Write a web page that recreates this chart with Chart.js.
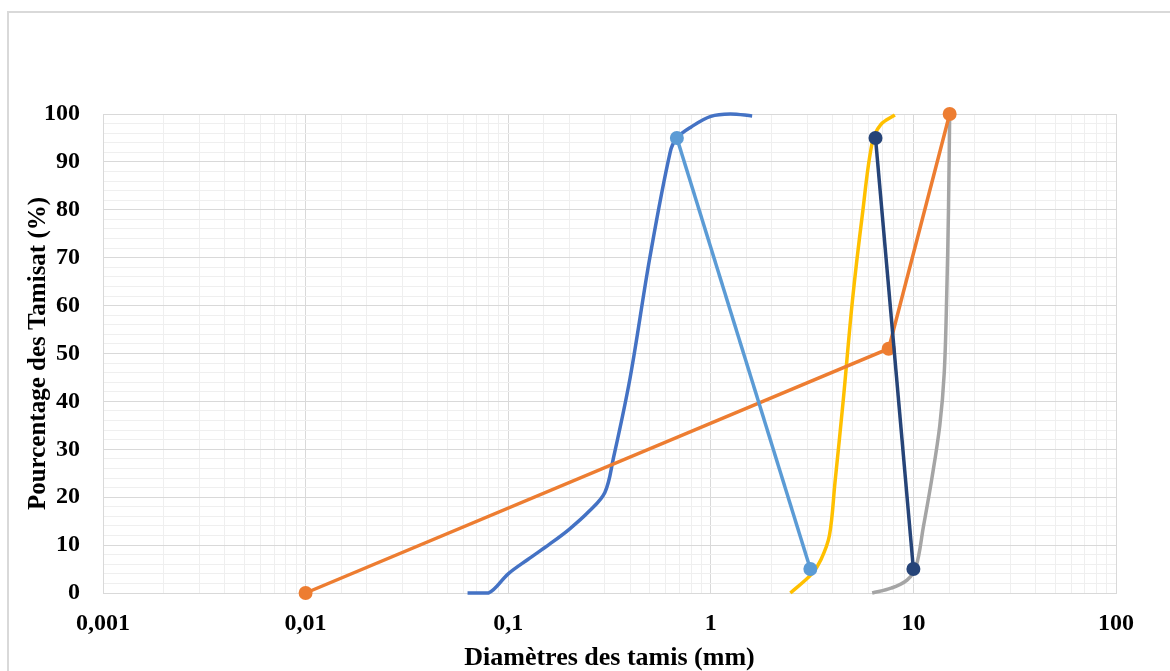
<!DOCTYPE html>
<html lang="fr">
<head>
<meta charset="utf-8">
<title>Courbes granulométriques</title>
<script src="https://cdn.jsdelivr.net/npm/chart.js@4.4.1/dist/chart.umd.min.js"></script>
<style>
  html, body { margin: 0; padding: 0; background: #ffffff; }
  #wrap { position: relative; width: 1170px; height: 671px; }
  canvas { display: block; }
</style>
</head>
<body>
<div id="wrap"><canvas id="chart" width="1170" height="671"></canvas></div>
<script>
// Diamètres des tamis (mm) et pourcentages de tamisat, par courbe
const sableFinX   = [0.063, 0.08, 0.1, 0.125, 0.16, 0.2, 0.25, 0.3, 0.33, 0.4, 0.5, 0.63, 0.68, 0.8, 1, 1.25, 1.6];
const sableFinY   = [0, 0, 4, 7, 10.2, 13.3, 17, 21, 28, 45, 70, 92, 95, 97.3, 99.5, 100, 99.6];

const gravX       = [2.47, 3.15, 3.5, 3.85, 4.1, 4.5, 5, 5.6, 6.26, 6.9, 8.1];
const gravY       = [0, 4, 7, 12, 23, 40, 61, 79, 94, 97.8, 99.8];

const gravGrosX   = [6.26, 7.75, 9.3, 10.3, 11.2, 12.3, 13.5, 14.2, 14.6, 14.9, 15.1];
const gravGrosY   = [0, 1, 2.7, 5.5, 13.8, 23.6, 35, 46, 62, 80, 100];

const referenceX  = [0.01, 7.55, 15.1];
const referenceY  = [0, 51, 100];

const limiteSableX = [0.68, 3.1];
const limiteSableY = [95, 5];

const limiteGravX = [6.5, 10];
const limiteGravY = [95, 5];

// Graduations de l'axe des ordonnées portant une étiquette
const yTickLabels = [0, 10, 20, 30, 40, 50, 60, 70, 80, 90, 100];
// Puissances de dix étiquetées sur l'axe logarithmique
const xTickLabels = { 0.001: '0,001', 0.01: '0,01', 0.1: '0,1', 1: '1', 10: '10', 100: '100' };

function toPoints(xs, ys) {
  return xs.map((x, i) => ({ x: x, y: ys[i] }));
}

function isPowerOfTen(v) {
  const l = Math.log10(v);
  return Math.abs(l - Math.round(l)) < 1e-9;
}

const serif = "'Liberation Serif', 'Times New Roman', serif";

const framePlugin = {
  id: 'frame',
  beforeDraw(chart) {
    const ctx = chart.ctx;
    ctx.save();
    ctx.fillStyle = '#ffffff';
    ctx.fillRect(0, 0, chart.width, chart.height);
    ctx.strokeStyle = '#d9d9d9';
    ctx.lineWidth = 2;
    ctx.beginPath();
    ctx.moveTo(8, chart.height);
    ctx.lineTo(8, 12);
    ctx.lineTo(chart.width, 12);
    ctx.stroke();
    ctx.restore();
  }
};

const curve = (data, color) => ({
  data: data,
  borderColor: color,
  backgroundColor: color,
  borderWidth: 3.5,
  pointRadius: 0,
  pointHoverRadius: 0,
  tension: 0.35,
  clip: false,
  fill: false
});

const segment = (data, color) => ({
  data: data,
  borderColor: color,
  backgroundColor: color,
  borderWidth: 3.5,
  pointRadius: 7,
  pointBorderWidth: 0,
  pointBackgroundColor: color,
  tension: 0,
  clip: false,
  fill: false
});

new Chart(document.getElementById('chart'), {
  type: 'line',
  data: {
    datasets: [
      Object.assign(segment(toPoints(limiteGravX, limiteGravY), '#264478'), { order: 1 }),
      Object.assign(segment(toPoints(limiteSableX, limiteSableY), '#5B9BD5'), { order: 2 }),
      Object.assign(segment(toPoints(referenceX, referenceY), '#ED7D31'), { order: 3 }),
      Object.assign(curve(toPoints(gravGrosX, gravGrosY), '#A5A5A5'), { order: 4 }),
      Object.assign(curve(toPoints(gravX, gravY), '#FFC000'), { order: 5 }),
      Object.assign(curve(toPoints(sableFinX, sableFinY), '#4472C4'), { order: 6 })
    ]
  },
  options: {
    responsive: false,
    animation: false,
    layout: { padding: { top: 114, right: 54, left: 0, bottom: 0 } },
    plugins: {
      legend: { display: false },
      tooltip: { enabled: false },
      title: { display: false }
    },
    scales: {
      x: {
        type: 'logarithmic',
        min: 0.001,
        max: 100,
        afterFit(scale) { scale.height = 78; },
        border: { color: '#d9d9d9', width: 1 },
        grid: {
          drawTicks: false,
          lineWidth: 1,
          color(ctx) {
            return ctx.tick && isPowerOfTen(ctx.tick.value) ? '#d9d9d9' : '#efefef';
          }
        },
        ticks: {
          autoSkip: false,
          maxRotation: 0,
          padding: 16,
          color: '#000000',
          font: { family: serif, size: 24, weight: 'bold' },
          callback(value) {
            for (const k in xTickLabels) {
              if (Math.abs(Number(k) - value) / Number(k) < 1e-6) return xTickLabels[k];
            }
            return '';
          }
        },
        title: {
          display: true,
          text: 'Diamètres des tamis (mm)',
          color: '#000000',
          font: { family: serif, size: 26, weight: 'bold', lineHeight: 1 },
          padding: { top: 0, bottom: 0 }
        }
      },
      y: {
        type: 'linear',
        min: 0,
        max: 100,
        afterFit(scale) { scale.width = 103; },
        border: { color: '#d9d9d9', width: 1 },
        grid: {
          drawTicks: false,
          lineWidth: 1,
          color(ctx) {
            return ctx.tick && yTickLabels.includes(ctx.tick.value) ? '#d9d9d9' : '#efefef';
          }
        },
        ticks: {
          stepSize: 2,
          autoSkip: false,
          padding: 23,
          color: '#000000',
          font: { family: serif, size: 24, weight: 'bold' },
          callback(value) {
            return yTickLabels.includes(value) ? String(value) : '';
          }
        },
        title: {
          display: true,
          text: 'Pourcentage des Tamisat (%)',
          color: '#000000',
          font: { family: serif, size: 25, weight: 'bold' },
          padding: { top: 24, bottom: 0 }
        }
      }
    }
  },
  plugins: [framePlugin]
});
</script>
</body>
</html>
